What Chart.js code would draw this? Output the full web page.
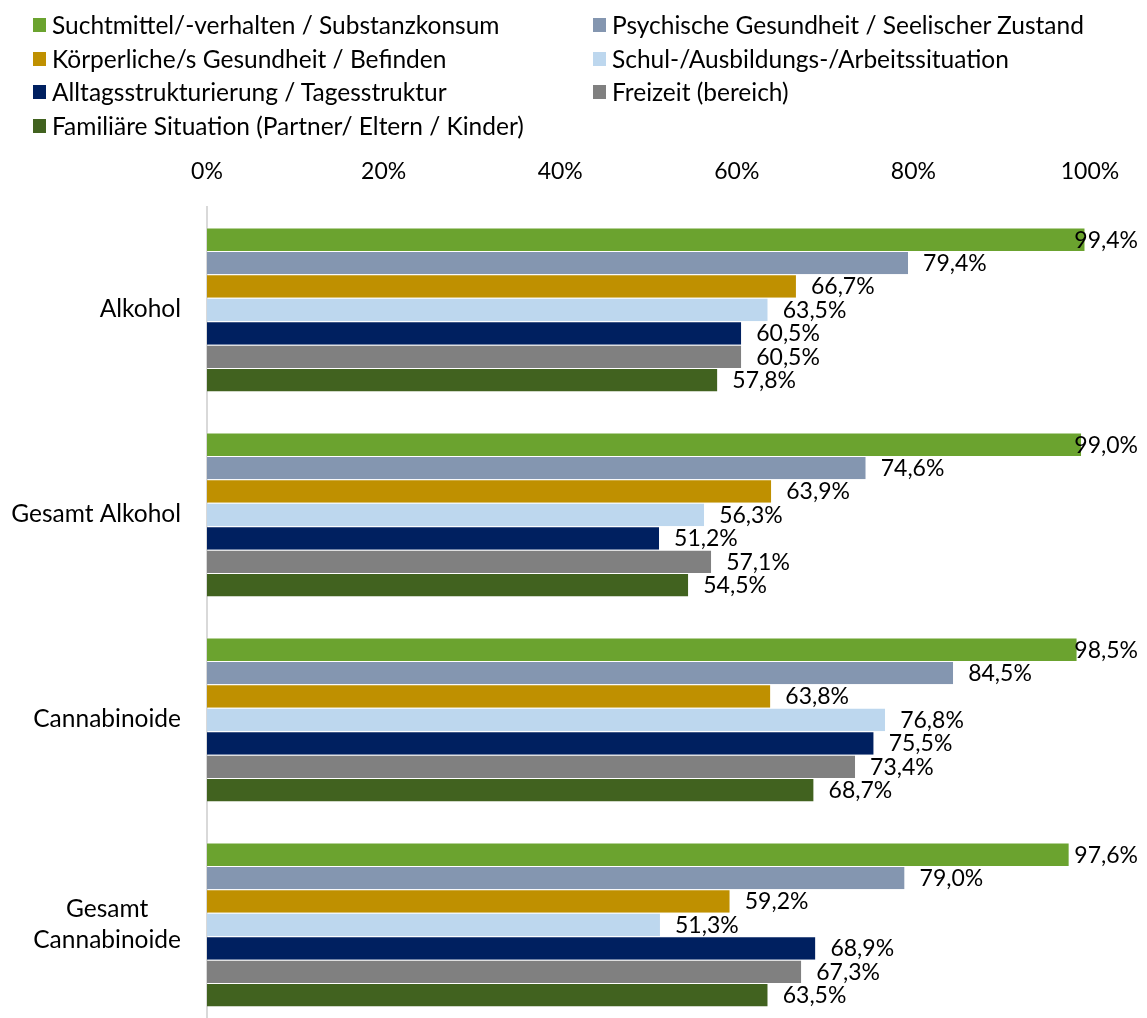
<!DOCTYPE html>
<html><head><meta charset="utf-8">
<script src="https://cdn.jsdelivr.net/npm/chart.js@4.4.1/dist/chart.umd.min.js"></script>
<style>
html,body{margin:0;padding:0;background:#fff;overflow:hidden;width:1147px;height:1018px}
#wrap{position:absolute;left:0;top:0;width:1147px;height:1030px}
#legend{position:absolute;left:0;top:0;width:1147px;height:150px;font-family:Lato,sans-serif;font-size:24.5px;color:#000}
.li{position:absolute;height:30px;line-height:30px;white-space:nowrap}
.sw{position:absolute;left:0;top:8px;width:13px;height:14px}
.tx{position:absolute;left:19px;top:0}
</style></head><body>
<div id="wrap"><canvas id="c" width="1147" height="1030" style="width:1147px;height:1030px"></canvas></div>
<div id="legend"></div>
<script>
const categories = ['Alkohol', 'Gesamt Alkohol', 'Cannabinoide', ['Gesamt', 'Cannabinoide']];
const seriesNames = [
  'Suchtmittel/-verhalten / Substanzkonsum',
  'Psychische Gesundheit / Seelischer Zustand',
  'Körperliche/s Gesundheit / Befinden',
  'Schul-/Ausbildungs-/Arbeitssituation',
  'Alltagsstrukturierung / Tagesstruktur',
  'Freizeit (bereich)',
  'Familiäre Situation (Partner/ Eltern / Kinder)'
];
const sucht    = [99.4, 99.0, 98.5, 97.6];
const psych    = [79.4, 74.6, 84.5, 79.0];
const koerper  = [66.7, 63.9, 63.8, 59.2];
const schul    = [63.5, 56.3, 76.8, 51.3];
const alltag   = [60.5, 51.2, 75.5, 68.9];
const freizeit = [60.5, 57.1, 73.4, 67.3];
const familie  = [57.8, 54.5, 68.7, 63.5];
const tickValues = [0, 20, 40, 60, 80, 100];
const colors = ['#6BA32F', '#8496B0', '#BF9000', '#BDD7EE', '#002060', '#808080', '#41621F'];

const seriesData = [sucht, psych, koerper, schul, alltag, freizeit, familie];
const FONT = 'Lato, sans-serif';
const FS = 23;      // digits (ticks, value labels)
const FS_TXT = 24.5; // words (category labels)

// HTML legend (2 columns)
const legendEl = document.getElementById('legend');
const colX = [33, 593];
const rowY = [25, 58.5, 92, 125.5];
seriesNames.forEach((name, i) => {
  const d = document.createElement('div');
  d.className = 'li';
  d.style.left = colX[i % 2] + 'px';
  d.style.top = (rowY[Math.floor(i / 2)] - 15) + 'px';
  d.innerHTML = '<span class="sw" style="background:' + colors[i] + '"></span><span class="tx"></span>';
  d.querySelector('.tx').textContent = name;
  legendEl.appendChild(d);
});

const valueLabels = {
  id: 'valueLabels',
  afterDatasetsDraw(chart) {
    const ctx = chart.ctx;
    ctx.save();
    ctx.font = FS + 'px ' + FONT;
    ctx.fillStyle = '#000';
    ctx.textBaseline = 'middle';
    ctx.textAlign = 'left';
    chart.data.datasets.forEach((ds, di) => {
      const meta = chart.getDatasetMeta(di);
      meta.data.forEach((bar, i) => {
        const txt = ds.data[i].toFixed(1).replace('.', ',') + '%';
        const w = ctx.measureText(txt).width;
        let x = bar.x + 15;
        if (x + w > 1138) x = 1138 - w;
        ctx.fillText(txt, x, bar.y + 1);
      });
    });
    ctx.restore();
  }
};

const yLabels = {
  id: 'yLabels',
  afterDraw(chart) {
    const ctx = chart.ctx;
    const sc = chart.scales.y;
    ctx.save();
    ctx.font = FS_TXT + 'px ' + FONT;
    ctx.fillStyle = '#000';
    ctx.textBaseline = 'middle';
    ctx.textAlign = 'center';
    const right = 181, lh = 31;
    categories.forEach((lab, i) => {
      const lines = Array.isArray(lab) ? lab : [lab];
      const maxW = Math.max(...lines.map(l => ctx.measureText(l).width));
      const cx = right - maxW / 2;
      const y0 = sc.getPixelForTick(i) - (lines.length - 1) * lh / 2;
      lines.forEach((l, k) => ctx.fillText(l, cx, y0 + k * lh));
    });
    ctx.restore();
  }
};

new Chart(document.getElementById('c'), {
  type: 'bar',
  data: {
    labels: categories,
    datasets: seriesNames.map((n, i) => ({
      label: n,
      data: seriesData[i],
      backgroundColor: colors[i],
      borderColor: 'rgba(255,255,255,0.55)',
      borderWidth: {top: 1, bottom: 0, left: 0, right: 0},
      borderSkipped: false,
      categoryPercentage: 0.8,
      barPercentage: 1.0
    }))
  },
  options: {
    indexAxis: 'y',
    responsive: false,
    animation: false,
    layout: {padding: {left: 0, right: 57, top: 0, bottom: 3}},
    plugins: {legend: {display: false}, tooltip: {enabled: false}},
    scales: {
      x: {
        position: 'top',
        min: 0, max: 100,
        afterBuildTicks: s => { s.ticks = tickValues.map(v => ({value: v})); },
        ticks: {
          callback: v => v + '%',
          font: {family: FONT, size: FS},
          color: '#000',
          padding: 22,
          maxRotation: 0
        },
        grid: {display: false, drawTicks: false},
        border: {display: false},
        afterFit: s => { s.height = 207; }
      },
      y: {
        ticks: {display: false},
        grid: {display: false, drawTicks: false},
        border: {display: true, color: '#D9D9D9', width: 2},
        afterFit: s => { s.width = 207; }
      }
    }
  },
  plugins: [valueLabels, yLabels]
});
</script>
</body></html>
